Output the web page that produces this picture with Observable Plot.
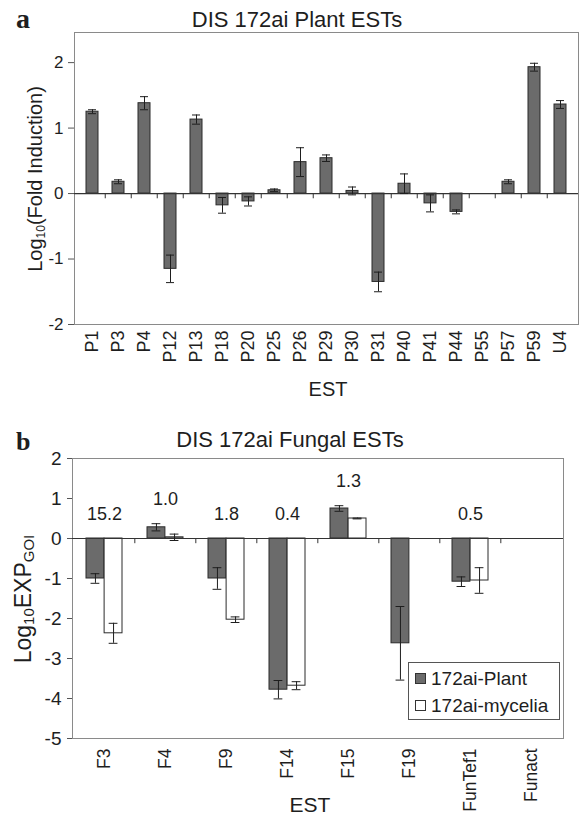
<!DOCTYPE html>
<html><head><meta charset="utf-8">
<script src="https://cdn.jsdelivr.net/npm/d3@7"></script>
<script src="https://cdn.jsdelivr.net/npm/@observablehq/plot@0.6"></script>
<style>
body{margin:0;background:#fff;}
#root{position:relative;width:579px;height:818px;overflow:hidden;background:#fff;}
#root > svg{position:absolute;left:0;}
</style></head><body><div id="root"></div>
<script>
// ---------- Panel a data ----------
const plantESTs = ["P1","P3","P4","P12","P13","P18","P20","P25","P26","P29","P30","P31","P40","P41","P44","P55","P57","P59","U4"];
const plantValues = [1.25, 0.18, 1.38, -1.15, 1.13, -0.18, -0.12, 0.05, 0.48, 0.54, 0.04, -1.35, 0.15, -0.15, -0.28, null, 0.18, 1.93, 1.36];
const plantErrors = [0.03, 0.03, 0.10, 0.21, 0.07, 0.12, 0.07, 0.02, 0.22, 0.05, 0.06, 0.15, 0.15, 0.13, 0.03, null, 0.03, 0.06, 0.06];
const yTicksA = [-2, -1, 0, 1, 2];

// ---------- Panel b data ----------
const fungalESTs = ["F3","F4","F9","F14","F15","F19","FunTef1","Funact"];
const fungalPlant = [-1.0, 0.28, -1.0, -3.78, 0.75, -2.62, -1.08, null];
const fungalPlantErr = [0.12, 0.09, 0.27, 0.23, 0.07, 0.92, 0.12, null];
const fungalMycelia = [-2.37, 0.03, -2.03, -3.68, 0.5, null, -1.05, null];
const fungalMyceliaErr = [0.25, 0.08, 0.07, 0.10, 0.01, null, 0.32, null];
const ratioLabels = ["15.2","1.0","1.8","0.4","1.3",null,"0.5",null];
const yTicksB = [-5, -4, -3, -2, -1, 0, 1, 2];

const FONT = "Arial, 'Liberation Sans', sans-serif";
const BAR = "#6b6b6b", EDGE = "#2b2b2b", FRAME = "#8a8a8a", INK = "#1e1e1e";
const root = document.getElementById("root");

// ---------- Panel a ----------
const A = {w: 579, h: 400, mt: 32, mb: 76, ml: 74, mr: 1};
const stepA = (A.w - A.ml - A.mr) / plantESTs.length;
const dataA = plantESTs.map((est, i) => ({est, v: plantValues[i], e: plantErrors[i]})).filter(d => d.v != null);

const plotA = Plot.plot({
  width: A.w, height: A.h,
  marginTop: A.mt, marginBottom: A.mb, marginLeft: A.ml, marginRight: A.mr,
  style: {fontFamily: FONT, color: INK, background: "transparent", overflow: "visible"},
  x: {domain: plantESTs, paddingInner: 0.55, paddingOuter: 0.275, label: null},
  y: {domain: [-2, 2.46], label: null},
  marks: [
    Plot.frame({stroke: FRAME}),
    Plot.axisY({ticks: yTicksA, tickSize: 6, tickPadding: 5, tickFormat: d => String(d), fontSize: 17, stroke: "#555", label: null}),
    Plot.axisX({tickRotate: -90, tickSize: 0, tickPadding: 6, fontSize: 18, label: null}),
    Plot.barY(dataA, {x: "est", y1: 0, y2: "v", fill: BAR, stroke: EDGE, strokeWidth: 1}),
    Plot.ruleY([0], {stroke: "#333", strokeWidth: 1.2}),
    Plot.ruleX(plantESTs.slice(1), {x: d => d, y1: 0, y2: -0.08, dx: -stepA / 2, stroke: "#333"}),
    Plot.ruleX(dataA, {x: "est", y1: d => d.v - d.e, y2: d => d.v + d.e, stroke: INK}),
    Plot.tickY(dataA, {x: "est", y: d => d.v + d.e, insetLeft: 2, insetRight: 2, stroke: INK}),
    Plot.tickY(dataA, {x: "est", y: d => d.v - d.e, insetLeft: 2, insetRight: 2, stroke: INK})
  ]
});
plotA.style.top = "0px";
root.appendChild(plotA);

// ---------- Panel b ----------
const B = {w: 579, h: 418, mt: 58, mb: 80, ml: 72, mr: 16};
const stepB = (B.w - B.ml - B.mr) / fungalESTs.length;
const padB = 0.41;
const bwB = stepB * (1 - padB);
const half = bwB / 2;
const plantB = fungalESTs.map((est, i) => ({est, v: fungalPlant[i], e: fungalPlantErr[i]})).filter(d => d.v != null);
const mycB = fungalESTs.map((est, i) => ({est, v: fungalMycelia[i], e: fungalMyceliaErr[i]})).filter(d => d.v != null);
const labB = fungalESTs.map((est, i) => ({
  est, t: ratioLabels[i],
  y: Math.max(0, (fungalPlant[i] ?? 0) + (fungalPlantErr[i] ?? 0), (fungalMycelia[i] ?? 0) + (fungalMyceliaErr[i] ?? 0)) + 0.6
})).filter(d => d.t != null);

const capW = 9;
const plotB = Plot.plot({
  width: B.w, height: B.h,
  marginTop: B.mt, marginBottom: B.mb, marginLeft: B.ml, marginRight: B.mr,
  style: {fontFamily: FONT, color: INK, background: "transparent", overflow: "visible"},
  x: {domain: fungalESTs, paddingInner: padB, paddingOuter: padB / 2, label: null},
  y: {domain: [-5, 2], label: null},
  marks: [
    Plot.frame({stroke: FRAME}),
    Plot.axisY({ticks: yTicksB, tickSize: 5, tickPadding: 6, tickFormat: d => String(d), fontSize: 19, stroke: "#555", label: null}),
    Plot.axisX({tickRotate: -90, tickSize: 0, tickPadding: 10, fontSize: 17.5, label: null}),
    Plot.barY(plantB, {x: "est", y1: 0, y2: "v", insetRight: half, fill: BAR, stroke: EDGE, strokeWidth: 1}),
    Plot.barY(mycB, {x: "est", y1: 0, y2: "v", insetLeft: half, fill: "white", stroke: EDGE, strokeWidth: 1}),
    Plot.ruleY([0], {stroke: "#333", strokeWidth: 1.2}),
    Plot.ruleX(fungalESTs.slice(1), {x: d => d, y1: 0, y2: -0.13, dx: -stepB / 2, stroke: "#333"}),
    Plot.ruleX(plantB, {x: "est", dx: -half / 2, y1: d => d.v - d.e, y2: d => d.v + d.e, stroke: INK}),
    Plot.tickY(plantB, {x: "est", y: d => d.v + d.e, insetLeft: half / 2 - capW / 2, insetRight: half * 1.5 - capW / 2, stroke: INK}),
    Plot.tickY(plantB, {x: "est", y: d => d.v - d.e, insetLeft: half / 2 - capW / 2, insetRight: half * 1.5 - capW / 2, stroke: INK}),
    Plot.ruleX(mycB, {x: "est", dx: half / 2, y1: d => d.v - d.e, y2: d => d.v + d.e, stroke: INK}),
    Plot.tickY(mycB, {x: "est", y: d => d.v + d.e, insetLeft: half * 1.5 - capW / 2, insetRight: half / 2 - capW / 2, stroke: INK}),
    Plot.tickY(mycB, {x: "est", y: d => d.v - d.e, insetLeft: half * 1.5 - capW / 2, insetRight: half / 2 - capW / 2, stroke: INK}),
    Plot.text(labB, {x: "est", y: "y", text: "t", fontSize: 18, fill: INK, lineAnchor: "middle"})
  ]
});
plotB.style.top = "400px";
root.appendChild(plotB);

// ---------- Titles, labels, legend (overlay) ----------
const ov = d3.select(root).append("svg")
  .attr("width", 579).attr("height", 818)
  .style("position", "absolute").style("left", 0).style("top", 0)
  .style("pointer-events", "none")
  .attr("font-family", FONT).attr("fill", INK);

ov.append("text").attr("x", 16).attr("y", 28).attr("font-family", "'Liberation Serif', 'DejaVu Serif', serif")
  .attr("font-weight", "bold").attr("font-size", 28).text("a");
ov.append("text").attr("x", 297).attr("y", 27).attr("text-anchor", "middle").attr("font-size", 22).text("DIS 172ai Plant ESTs");
ov.append("text").attr("x", 328).attr("y", 396).attr("text-anchor", "middle").attr("font-size", 20).text("EST");
{
  const t = ov.append("text").attr("transform", "translate(42,179) rotate(-90)").attr("text-anchor", "middle").attr("font-size", 20);
  t.append("tspan").text("Log");
  t.append("tspan").attr("font-size", 12).attr("dy", 3).text("10");
  t.append("tspan").attr("dy", -3).text("(Fold Induction)");
}

ov.append("text").attr("x", 16).attr("y", 450).attr("font-family", "'Liberation Serif', 'DejaVu Serif', serif")
  .attr("font-weight", "bold").attr("font-size", 26).text("b");
ov.append("text").attr("x", 290).attr("y", 447).attr("text-anchor", "middle").attr("font-size", 22).text("DIS 172ai Fungal ESTs");
ov.append("text").attr("x", 310).attr("y", 812).attr("text-anchor", "middle").attr("font-size", 21).text("EST");
{
  const t = ov.append("text").attr("transform", "translate(31,599) rotate(-90)").attr("text-anchor", "middle").attr("font-size", 23);
  t.append("tspan").text("Log");
  t.append("tspan").attr("font-size", 15).attr("dy", 3).text("10");
  t.append("tspan").attr("dy", -3).text("EXP");
  t.append("tspan").attr("font-size", 15).attr("dy", 3).text("GOI");
}

// legend
const lg = ov.append("g");
lg.append("rect").attr("x", 408.5).attr("y", 662.5).attr("width", 151).attr("height", 57).attr("fill", "white").attr("stroke", "#555");
const legendItems = [{label: "172ai-Plant", fill: BAR}, {label: "172ai-mycelia", fill: "white"}];
legendItems.forEach((d, i) => {
  lg.append("rect").attr("x", 415.5).attr("y", 673.5 + i * 27).attr("width", 10).attr("height", 10).attr("fill", d.fill).attr("stroke", "#333");
  lg.append("text").attr("x", 431).attr("y", 685 + i * 27).attr("font-size", 19).text(d.label);
});
</script>
</body></html>
